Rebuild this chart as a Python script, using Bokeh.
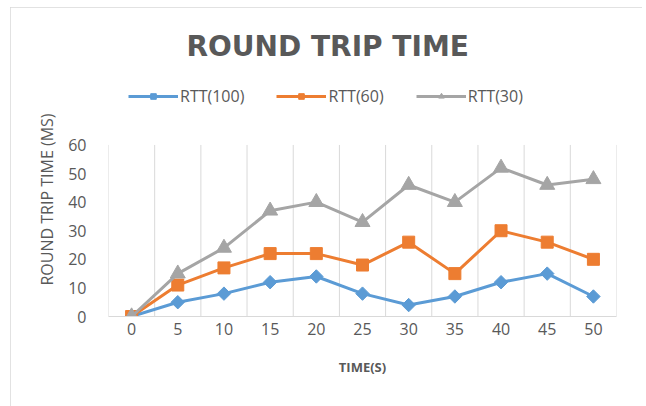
import numpy as np
from bokeh.plotting import figure
from bokeh.models import (Range1d, FixedTicker, Legend, LegendItem, ColumnDataSource)
from bokeh.embed import file_html
from bokeh.resources import INLINE

# ---- data ----
time_s = [0, 5, 10, 15, 20, 25, 30, 35, 40, 45, 50]
rtt_100 = [0, 5, 8, 12, 14, 8, 4, 7, 12, 15, 7]
rtt_60 = [0, 11, 17, 22, 22, 18, 26, 15, 30, 26, 20]
rtt_30 = [0, 15, 24, 37, 40, 33, 46, 40, 52, 46, 48]
series_names = ["RTT(100)", "RTT(60)", "RTT(30)"]
y_ticks = [0, 10, 20, 30, 40, 50, 60]

TEXT = "#595959"
GRID = "#d9d9d9"
BLUE, ORANGE, GRAY = "#5b9bd5", "#ed7d31", "#a5a5a5"

step = time_s[1] - time_s[0]

# layout (pixels): the data area is 173px tall for 0..60; the frame also
# holds the legend strip above it, so the y range is extended in proportion.
DATA_H, FRAME_H = 173, 236
y_top = y_ticks[-1] * FRAME_H / DATA_H

p = figure(width=632, height=399, output_backend="svg", toolbar_location=None,
           x_range=Range1d(time_s[0] - step / 2, time_s[-1] + step / 2),
           y_range=Range1d(y_ticks[0], y_top),
           min_border_left=98, min_border_right=26,
           min_border_top=399 - 90 - FRAME_H, min_border_bottom=90)
p.styles = {"outline": "1px solid #d9d9d9", "outline-offset": "-1px",
            "margin-left": "10px", "margin-top": "7px"}
p.outline_line_color = None
p.background_fill_color = "white"
p.border_fill_color = "white"

p.title.text = "ROUND TRIP TIME"
p.title.align = "left"
p.title.offset = 78
p.title.text_font = "DejaVu Sans"
p.title.text_font_size = "28px"
p.title.text_font_style = "bold"
p.title.text_color = TEXT
p.title.standoff = 40

# vertical category-boundary gridlines, spanning the value axis 0..60
bounds_x = [t - step / 2 for t in time_s] + [time_s[-1] + step / 2]
p.segment(x0=bounds_x, y0=[y_ticks[0]] * len(bounds_x),
          x1=bounds_x, y1=[y_ticks[-1]] * len(bounds_x),
          line_color=GRID, line_width=1)

src = ColumnDataSource(dict(t=time_s, a=rtt_100, b=rtt_60, c=rtt_30))

l1 = p.line("t", "a", source=src, color=BLUE, line_width=3)
m1 = p.scatter("t", "a", source=src, marker="square", angle=np.pi / 4, size=9.5,
               color=BLUE)
l2 = p.line("t", "b", source=src, color=ORANGE, line_width=3)
m2 = p.scatter("t", "b", source=src, marker="square", size=12, color=ORANGE)
l3 = p.line("t", "c", source=src, color=GRAY, line_width=3)
m3 = p.scatter("t", "c", source=src, marker="triangle", size=15, color=GRAY)

# axes
p.xaxis.ticker = FixedTicker(ticks=time_s)
p.yaxis.ticker = FixedTicker(ticks=y_ticks)
p.yaxis.bounds = (y_ticks[0], y_ticks[-1])
for ax in (p.xaxis[0], p.yaxis[0]):
    ax.major_tick_line_color = None
    ax.minor_tick_line_color = None
    ax.major_label_text_color = TEXT
    ax.major_label_text_font = "Open Sans"
    ax.major_label_text_font_size = "16px"
    ax.axis_label_text_color = TEXT
    ax.axis_label_text_font = "Open Sans"
p.xaxis.axis_line_color = GRID
p.yaxis.axis_line_color = None
p.xaxis.major_label_standoff = 0
p.yaxis.major_label_standoff = 16
p.xaxis.axis_label = "TIME(S)"
p.xaxis.axis_label_text_font_style = "bold"
p.xaxis.axis_label_text_font_size = "13px"
p.xaxis.axis_label_standoff = 20
p.yaxis.axis_label = "ROUND TRIP TIME (MS)"
p.yaxis.axis_label_text_font_style = "normal"
p.yaxis.axis_label_text_font_size = "16px"
p.yaxis.axis_label_standoff = 7

p.xgrid.visible = False
p.ygrid.visible = False

legend = Legend(items=[LegendItem(label=series_names[0], renderers=[l1, m1]),
                       LegendItem(label=series_names[1], renderers=[l2, m2]),
                       LegendItem(label=series_names[2], renderers=[l3, m3])],
                orientation="horizontal", location=(20, 209),
                glyph_width=50, glyph_height=14, label_standoff=2, spacing=32,
                label_text_font="Open Sans", label_text_font_size="16px",
                label_text_color=TEXT, border_line_color=None,
                background_fill_alpha=0, margin=0, padding=0)
p.add_layout(legend, "center")

open("out.html", "w").write(file_html(p, INLINE))
